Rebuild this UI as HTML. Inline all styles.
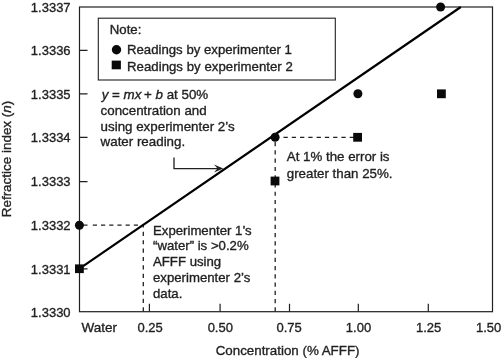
<!DOCTYPE html>
<html>
<head>
<meta charset="utf-8">
<title>Refractive index vs concentration</title>
<style>
html,body{margin:0;padding:0;background:#fff;}
body{width:503px;height:358px;overflow:hidden;}
svg{display:block;}
svg{filter:grayscale(1);}
text{font-family:"Liberation Sans",sans-serif;font-size:13px;fill:#231f20;stroke:#231f20;stroke-width:0.35px;}
.t text,text.t{font-size:13.2px;}
.i{font-style:italic;}
</style>
</head>
<body>
<svg width="503" height="358" viewBox="0 0 503 358">
<rect x="0" y="0" width="503" height="358" fill="#fff"/>
<!-- frame -->
<g fill="none" stroke="#231f20" stroke-width="1.2">
<rect x="79.5" y="7" width="413" height="304.7"/>
<!-- y ticks -->
<path d="M79.5 50.4h8M79.5 93.9h8M79.5 137.4h8M79.5 181.7h8M79.5 225.2h8M79.5 268.8h8"/>
<!-- x ticks -->
<path d="M149.4 311.7v-8M220.1 311.7v-8M289.5 311.7v-8M358.3 311.7v-8M428.3 311.7v-8"/>
<!-- legend box -->
<rect x="98.3" y="18.2" width="237" height="61.8" stroke-width="1.1"/>
</g>
<!-- dashed guides -->
<g fill="none" stroke="#231f20" stroke-width="1.3">
<path d="M92.8 225.2H144" stroke-dasharray="4.2 4"/>
<path d="M143.3 311.4V229" stroke-dasharray="4.2 4.18"/>
<path d="M143.3 224.6V227.5"/>
<path d="M283.5 137.3H354" stroke-dasharray="4.3 3.97"/>
<path d="M275.2 311.5V141" stroke-dasharray="4.2 4.06"/>
</g>
<!-- regression line -->
<path d="M79.5 268.7L460.8 7" fill="none" stroke="#000" stroke-width="2.2"/>
<!-- arrow -->
<path d="M174 157.5V168.6H218" fill="none" stroke="#231f20" stroke-width="1.3"/>
<path d="M223.3 168.6L214 164.6L217.5 168.6L214 172.4Z" fill="#231f20"/>
<!-- markers -->
<g fill="#0a0a0a">
<circle cx="79.4" cy="225.2" r="4.5"/>
<circle cx="275.1" cy="137.3" r="4.5"/>
<circle cx="357.9" cy="93.7" r="4.5"/>
<circle cx="440.6" cy="7" r="4.5"/>
<circle cx="116.5" cy="49.8" r="4.7"/>
<rect x="75" y="264.4" width="8.8" height="8.7"/>
<rect x="270.6" y="176.6" width="8.8" height="8.8"/>
<rect x="353.2" y="132.9" width="8.8" height="8.8"/>
<rect x="437" y="89.4" width="8.8" height="8.8"/>
<rect x="111.7" y="60.6" width="9.2" height="8.7"/>
</g>
<g class="txt">
<!-- y labels -->
<g text-anchor="end">
<text x="70.6" y="11.7">1.3337</text>
<text x="70.6" y="55.1">1.3336</text>
<text x="70.6" y="98.6">1.3335</text>
<text x="70.6" y="142.1">1.3334</text>
<text x="70.6" y="186.4">1.3333</text>
<text x="70.6" y="229.9">1.3332</text>
<text x="70.6" y="273.5">1.3331</text>
<text x="70.6" y="317.2">1.3330</text>
</g>
<!-- x labels -->
<g text-anchor="middle">
<text x="99.2" y="331.9" style="font-size:13.5px">Water</text>
<text x="150.2" y="331.9">0.25</text>
<text x="220.3" y="331.9">0.50</text>
<text x="289.2" y="331.9">0.75</text>
<text x="358.5" y="331.9">1.00</text>
<text x="428.6" y="331.9">1.25</text>
<text x="488.6" y="331.9">1.50</text>
<text class="t" style="font-size:13.35px" x="287.6" y="354.6">Concentration (% AFFF)</text>
</g>
<text class="t" style="font-size:13.45px" transform="translate(11.1 159) rotate(-90)" text-anchor="middle">Refractice index (<tspan class="i">n</tspan>)</text>
<g class="t">
<!-- legend -->
<text x="109.8" y="34.2">Note:</text>
<text x="127" y="54.3">Readings by experimenter 1</text>
<text x="127" y="70.6" style="letter-spacing:0.035px">Readings by experimenter 2</text>
<!-- annotations -->
<text style="font-size:13.35px" x="100.6" y="98.9"><tspan class="i" dx="1.1">y</tspan> = <tspan class="i">mx</tspan><tspan dx="-1.1"> + </tspan><tspan class="i">b</tspan> at 50%</text>
<text style="font-size:13.35px" x="100.6" y="114.8">concentration and</text>
<text style="font-size:13.35px" x="100.6" y="130.5">using experimenter 2’s</text>
<text style="font-size:13.35px" x="100.6" y="146.3">water reading.</text>
<text style="font-size:13.3px" x="286.8" y="161.1">At 1% the error is</text>
<text style="font-size:13.3px" x="286.8" y="177.6">greater than 25%.</text>
<text x="153" y="234.6">Experimenter 1’s</text>
<text x="153" y="250.3">“water” is &gt;0.2%</text>
<text x="153" y="266">AFFF using</text>
<text x="153" y="281.8">experimenter 2’s</text>
<text x="153" y="297.5">data.</text>
</g>
</g>
</svg>
</body>
</html>
